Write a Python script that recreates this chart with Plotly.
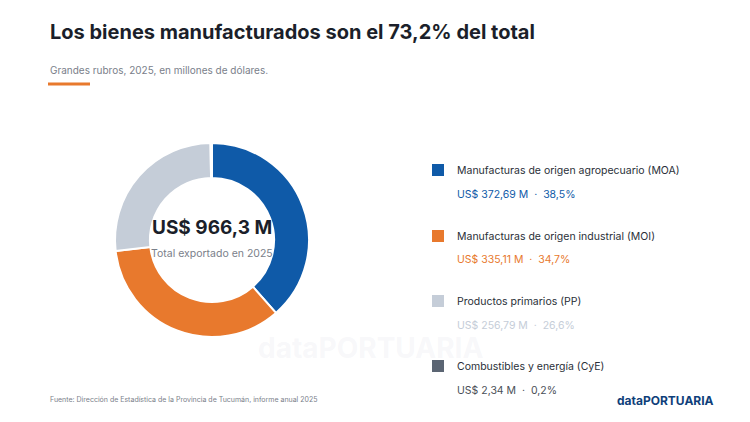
import plotly.graph_objects as go

categorias = ["Manufacturas de origen agropecuario (MOA)",
              "Manufacturas de origen industrial (MOI)",
              "Productos primarios (PP)",
              "Combustibles y energía (CyE)"]
valores = [372.69, 335.11, 256.79, 2.34]
valores_txt = ["US$ 372,69 M", "US$ 335,11 M", "US$ 256,79 M", "US$ 2,34 M"]
porcentajes = ["38,5%", "34,7%", "26,6%", "0,2%"]
colores = ["#0f5aa8", "#e8792d", "#c5cdd8", "#5b6573"]
colores_txt = ["#0f5aa8", "#e8792d", "#c5cdd8", "#4a4f57"]

W, H = 750, 422
FONT = "Inter"
DX, DY = -8, -8  # page offset in the browser

fig = go.Figure(go.Pie(
    values=valores, labels=categorias, hole=0.64, sort=False, direction="clockwise",
    rotation=0, marker=dict(colors=colores, line=dict(color="white", width=2)),
    textinfo="none", showlegend=False,
    domain=dict(x=[(115 + DX) / W, (309 + DX) / W], y=[1 - (337 + DY) / H, 1 - (143 + DY) / H]),
))

ann = []
def txt(x, y, s, size, color, bold=False, xanchor="left"):
    ann.append(dict(x=(x + DX) / W, y=1 - (y + DY) / H, xref="paper", yref="paper",
                    text=f"<b>{s}</b>" if bold else s,
                    showarrow=False, xanchor=xanchor, yanchor="middle",
                    font=dict(family=FONT, size=size, color=color)))

txt(370, 348, "<b>dataPORTUARIA</b>", 28, "rgba(200,205,215,0.15)", False, "center")
txt(48, 32, "Los bienes manufacturados son el 73,2% del total", 20, "#1b1f2a", True)
txt(48, 70, "Grandes rubros, 2025, en millones de dólares.", 10, "#7a808a")
txt(212, 227, "US$ 966,3 M", 19, "#1b1f2a", True, "center")
txt(212, 253, "Total exportado en 2025", 10.5, "#7a808a", False, "center")
txt(48, 399, "Fuente: Dirección de Estadística de la Provincia de Tucumán, informe anual 2025", 7, "#7a808a")
txt(716, 400, "<b>dataPORTUARIA</b>", 12, "#0f3f7a", False, "right")

shapes = [dict(type="line", x0=(48 + DX) / W, x1=(90 + DX) / W, y0=1 - (84 + DY) / H, y1=1 - (84 + DY) / H,
               xref="paper", yref="paper", line=dict(color="#e8792d", width=3))]
filas = [170, 236, 301, 366]
for i, yy in enumerate(filas):
    shapes.append(dict(type="rect", xref="paper", yref="paper", x0=(432 + DX) / W, x1=(444 + DX) / W,
                       y0=1 - (yy + 6 + DY) / H, y1=1 - (yy - 6 + DY) / H, fillcolor=colores[i], line=dict(width=0)))
    txt(455, yy, categorias[i], 10.5, "#2a2f38")
    txt(455, yy + 24, f"{valores_txt[i]}  ·  {porcentajes[i]}", 10.5, colores_txt[i])

fig.update_layout(width=W, height=H, margin=dict(l=0, r=0, t=0, b=0),
                  paper_bgcolor="white", plot_bgcolor="white",
                  annotations=ann, shapes=shapes)
fig.write_html("out.html")
